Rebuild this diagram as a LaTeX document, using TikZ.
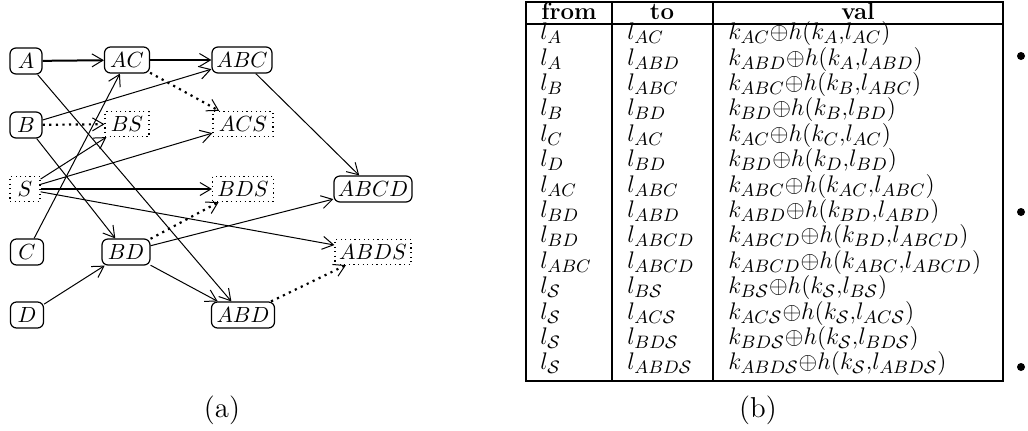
\documentclass[tikz,border=0pt]{standalone}
\usetikzlibrary{arrows.meta}
\newcommand{\calS}{\mathcal{S}}
\begin{document}
\begin{tikzpicture}[x=0.5pt,y=-0.5pt,
  gnode/.style={draw, rounded corners=3pt, line width=0.6pt, minimum height=13pt,
    inner sep=0pt, font=\fontsize{10.5}{12}\selectfont},
  snode/.style={draw, line width=0.6pt, dash pattern=on 0.6pt off 1.7pt,
    minimum height=12.5pt, inner sep=0pt, font=\fontsize{10.5}{12}\selectfont},
  tipped/.style={-{Straight Barb[length=5.5pt,width=6.5pt,line width=0.5pt]}},
  thinarr/.style={tipped, line width=0.5pt},
  thickarr/.style={tipped, line width=1pt},
  dotarr/.style={tipped, line width=1.1pt, dash pattern=on 1.1pt off 2.2pt},
  rule/.style={line width=0.9pt},
  cell/.style={anchor=base west, inner sep=0pt, font=\fontsize{12.5}{14}\selectfont},
  head/.style={anchor=base, inner sep=0pt, font=\fontsize{12}{14}\selectfont\bfseries},
  capt/.style={inner sep=0pt, font=\fontsize{14.4}{17}\selectfont},
  dot/.style={circle, fill, inner sep=0pt, minimum size=4pt}]
\useasboundingbox (0,0) rectangle (1028,430);

% ---- graph (a) ----
\node[gnode, minimum width=16pt]   (A)    at (26,61)  {$A$};
\node[gnode, minimum width=22.5pt] (AC)   at (127,60) {$AC$};
\node[gnode, minimum width=30pt]   (ABC)  at (242,60) {$ABC$};
\node[gnode, minimum width=16pt]   (B)    at (26,125) {$B$};
\node[snode, minimum width=22pt]   (BS)   at (127,124) {$BS$};
\node[snode, minimum width=30pt]   (ACS)  at (243,124) {$ACS$};
\node[snode, minimum width=15pt]   (S)    at (25,189) {$S$};
\node[snode, minimum width=30.5pt] (BDS)  at (243,189) {$BDS$};
\node[gnode, minimum width=39pt]   (ABCD) at (373,189) {$ABCD$};
\node[gnode, minimum width=16.5pt] (C)    at (27,252) {$C$};
\node[gnode, minimum width=24pt]   (BD)   at (126,252) {$BD$};
\node[snode, minimum width=38pt]   (ABDS) at (373,252) {$ABDS$};
\node[gnode, minimum width=16.5pt] (D)    at (27,315) {$D$};
\node[gnode, minimum width=31.5pt] (ABD)  at (243,315) {$ABD$};

\draw[thickarr] (A) -- (AC);
\draw[thickarr] (AC) -- (ABC);
\draw[dotarr]   (AC) -- (ACS);
\draw[thinarr]  (A) -- (ABD);
\draw[thinarr]  (B) -- (ABC);
\draw[dotarr]   (B) -- (BS);
\draw[thinarr]  (B) -- (BD);
\draw[thinarr]  (S) -- (BS);
\draw[thinarr]  (S) -- (ACS);
\draw[thickarr] (S) -- (BDS);
\draw[thinarr]  (S) -- (ABDS);
\draw[thinarr]  (C) -- (AC);
\draw[thinarr]  (D) -- (BD);
\draw[dotarr]   (BD) -- (BDS);
\draw[thinarr]  (BD) -- (ABCD);
\draw[thinarr]  (BD) -- (ABD);
\draw[thinarr]  (ABC) -- (ABCD);
\draw[dotarr]   (ABD) -- (ABDS);

\node[capt] (capa) at (222,410) {(a)};

% ---- table (b) ----
\draw[rule] (526,2) rectangle (1003,381);
\draw[rule] (526,24) -- (1003,24);
\draw[rule] (612,2) -- (612,381);
\draw[rule] (713,2) -- (713,381);

\node[head] (hfrom) at (569,19) {from};
\node[head] (hto)   at (662,19) {to};
\node[head] (hval)  at (858,19) {val};

\foreach \i/\f/\t/\v in {
  1/{l_A}/{l_{AC}}/{k_{AC}{\oplus}h(k_A{,}l_{AC})},
  2/{l_A}/{l_{ABD}}/{k_{ABD}{\oplus}h(k_A{,}l_{ABD})},
  3/{l_B}/{l_{ABC}}/{k_{ABC}{\oplus}h(k_B{,}l_{ABC})},
  4/{l_B}/{l_{BD}}/{k_{BD}{\oplus}h(k_B{,}l_{BD})},
  5/{l_C}/{l_{AC}}/{k_{AC}{\oplus}h(k_C{,}l_{AC})},
  6/{l_D}/{l_{BD}}/{k_{BD}{\oplus}h(k_D{,}l_{BD})},
  7/{l_{AC}}/{l_{ABC}}/{k_{ABC}{\oplus}h(k_{AC}{,}l_{ABC})},
  8/{l_{BD}}/{l_{ABD}}/{k_{ABD}{\oplus}h(k_{BD}{,}l_{ABD})},
  9/{l_{BD}}/{l_{ABCD}}/{k_{ABCD}{\oplus}h(k_{BD}{,}l_{ABCD})},
  10/{l_{ABC}}/{l_{ABCD}}/{k_{ABCD}{\oplus}h(k_{ABC}{,}l_{ABCD})},
  11/{l_\calS}/{l_{B\calS}}/{k_{B\calS}{\oplus}h(k_\calS{,}l_{B\calS})},
  12/{l_\calS}/{l_{AC\calS}}/{k_{AC\calS}{\oplus}h(k_\calS{,}l_{AC\calS})},
  13/{l_\calS}/{l_{BD\calS}}/{k_{BD\calS}{\oplus}h(k_\calS{,}l_{BD\calS})},
  14/{l_\calS}/{l_{ABD\calS}}/{k_{ABD\calS}{\oplus}h(k_\calS{,}l_{ABD\calS})}}{
  \pgfmathsetmacro{\yb}{24+25.4*(\i-0.5)+3}
  \node[cell] (from\i) at (540,\yb) {$\f$};
  \node[cell] (to\i)   at (627,\yb) {$\t$};
  \node[cell] (val\i)  at (728,\yb) {$\v$};
}

\node[capt] (capb) at (758,410) {(b)};

% bullets of the neighbouring list
\node[dot] (b1) at (1021,56) {};
\node[dot] (b2) at (1021,212) {};
\node[dot] (b3) at (1021,367) {};
\end{tikzpicture}
\end{document}
